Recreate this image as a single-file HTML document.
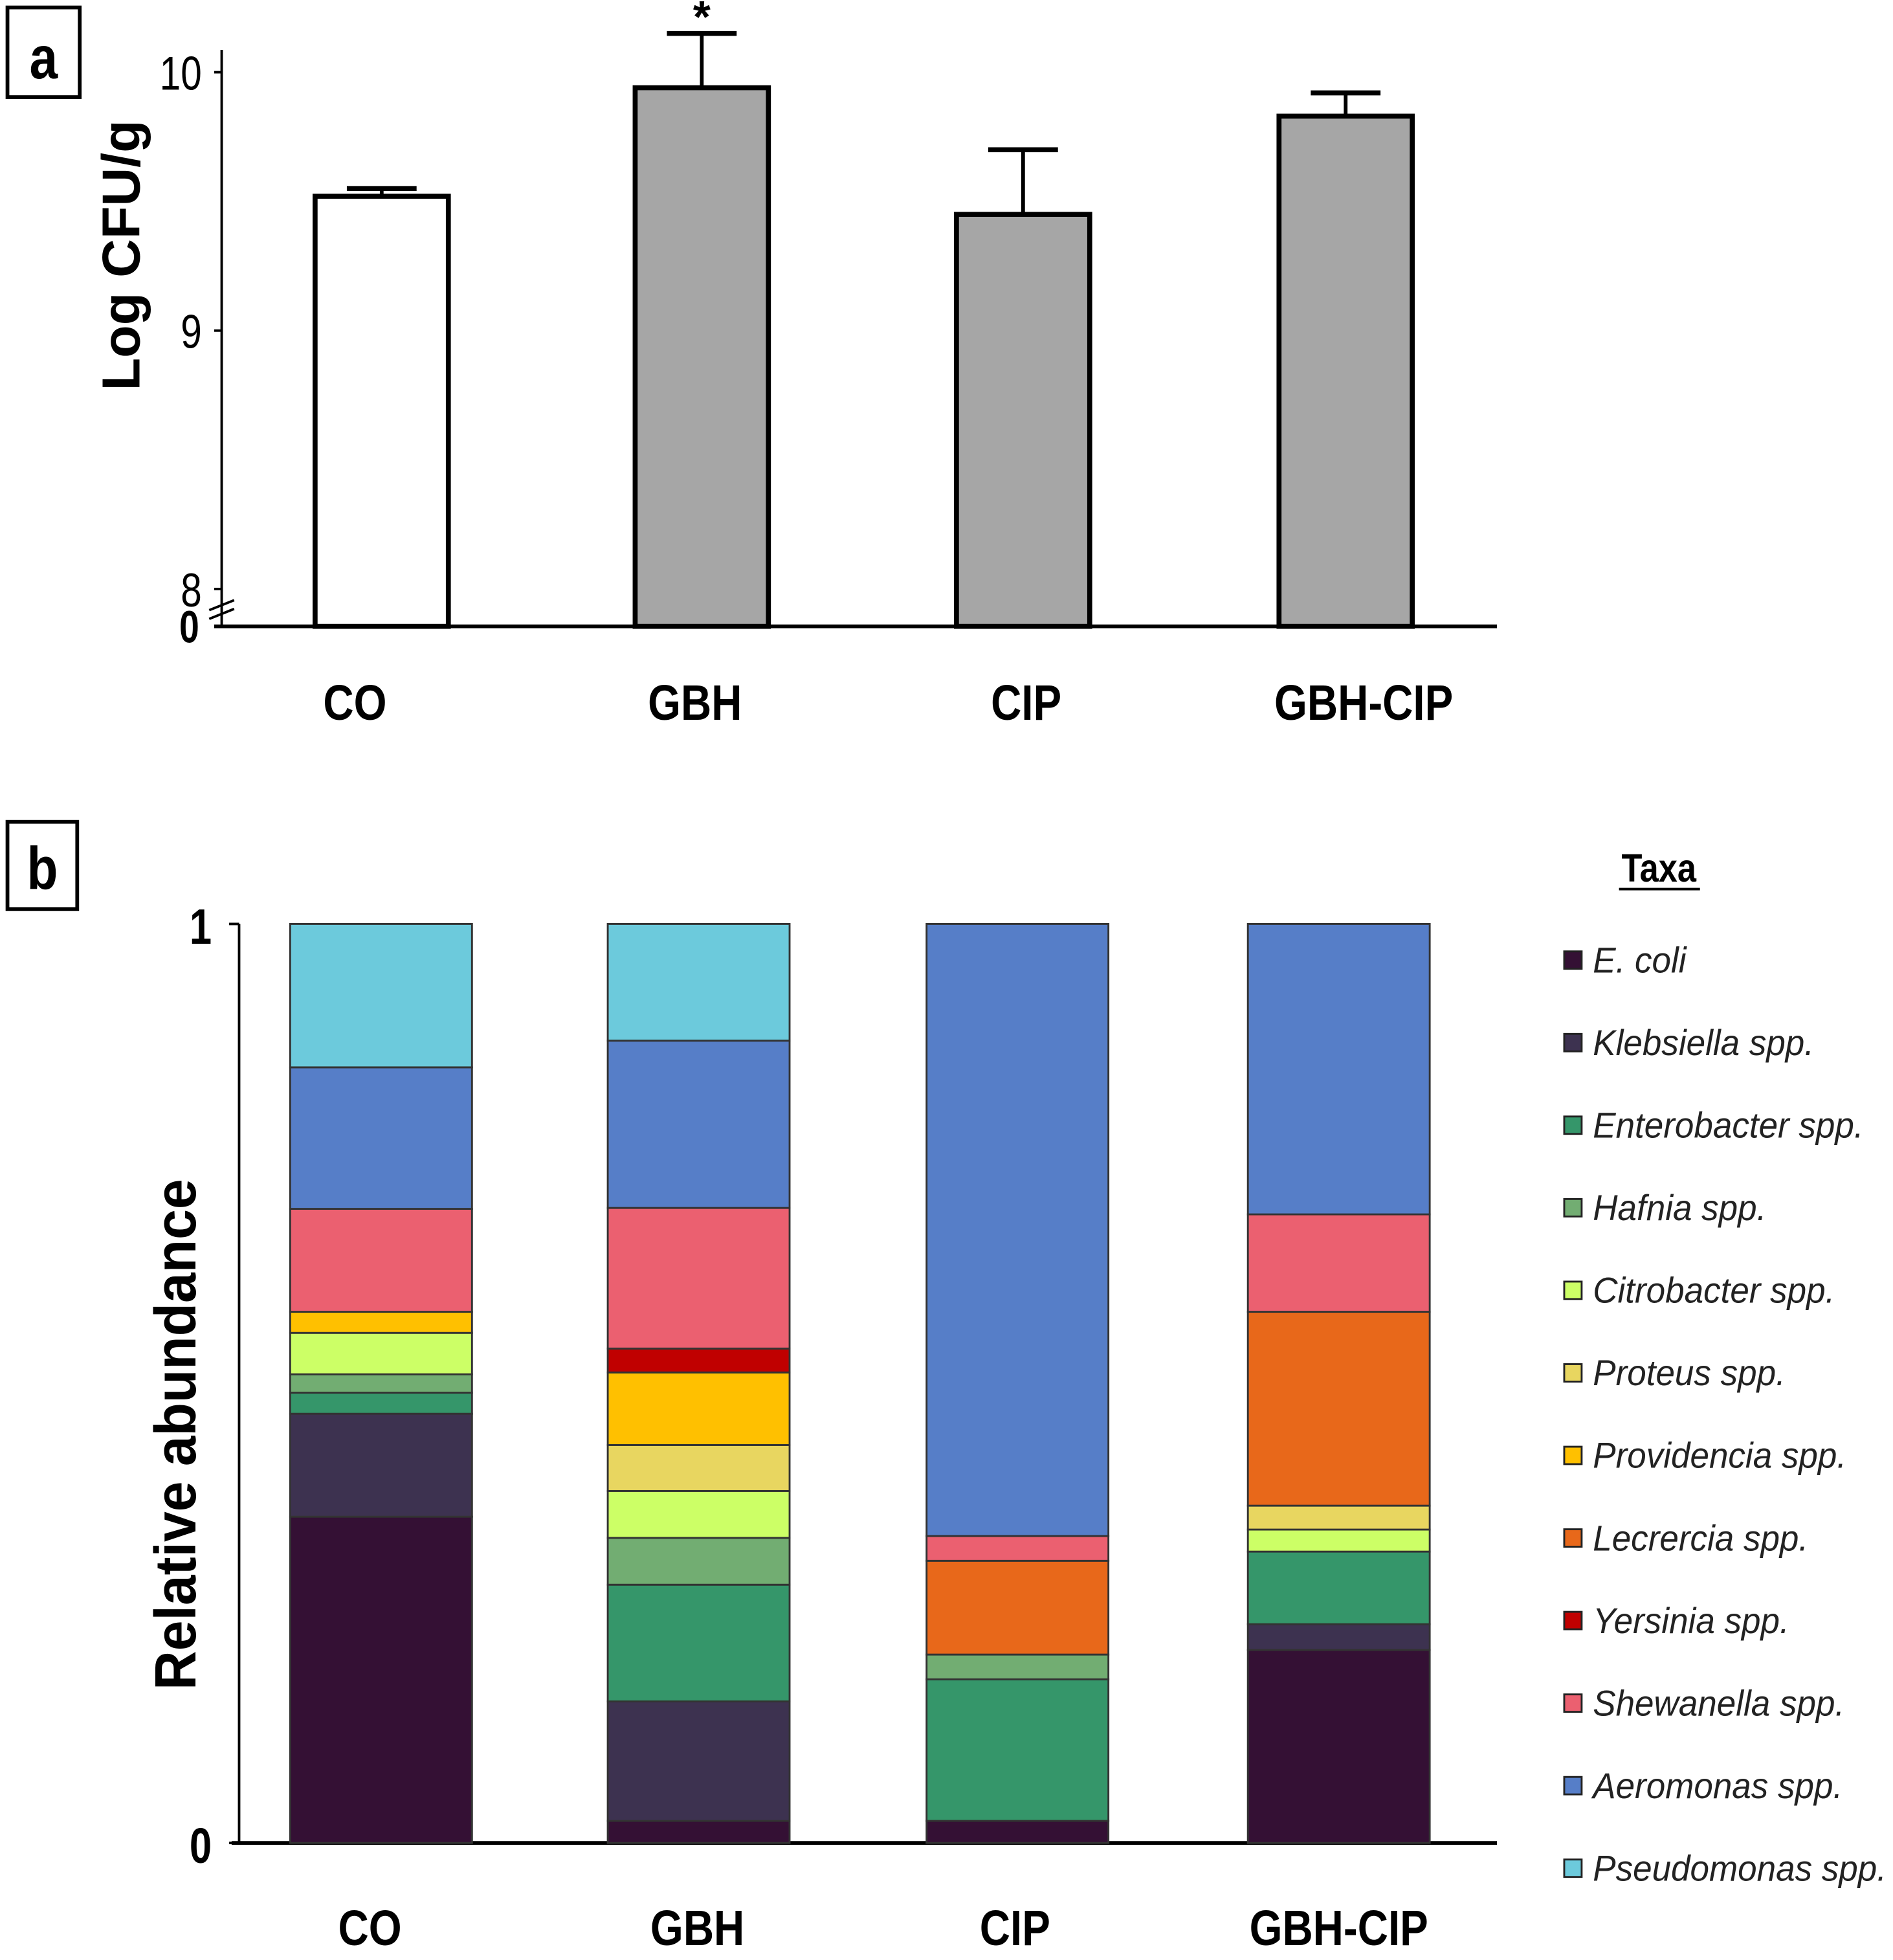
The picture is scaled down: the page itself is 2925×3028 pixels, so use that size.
<!DOCTYPE html>
<html><head><meta charset="utf-8"><style>
html,body{margin:0;padding:0;background:#fff}
svg{display:block;font-family:"Liberation Sans",sans-serif}
</style></head><body>
<svg id="fig" width="2925" height="3028" viewBox="0 0 1520 1574" preserveAspectRatio="none" xmlns="http://www.w3.org/2000/svg">
<g id="pa"></g>
<g id="pb"></g>
</svg>
<script>
// Panel a data
const aCategories = ["CO","GBH","CIP","GBH-CIP"];
const aMeans = [9.52, 9.94, 9.45, 9.83];
const aErrors = [0.03, 0.21, 0.25, 0.09];
const aTicks = [10, 9, 8];
const aSignif = ["", "*", "", ""];
// Panel b data
const bCategories = ["CO","GBH","CIP","GBH-CIP"];
const taxa = ["E. coli","Klebsiella spp.","Enterobacter spp.","Hafnia spp.","Citrobacter spp.","Proteus spp.","Providencia spp.","Lecrercia spp.","Yersinia spp.","Shewanella spp.","Aeromonas spp.","Pseudomonas spp."];
const taxaColors = ["#341034","#3d3250","#35966a","#72ad72","#ccff66","#e8d660","#ffc000","#e8681a","#c00000","#eb6070","#567ec8","#6ccadc"];
const abCO = [0.355,0.112,0.023,0.020,0.045,0,0.023,0,0,0.112,0.154,0.156];
const abGBH = [0.024,0.130,0.127,0.051,0.051,0.050,0.079,0,0.026,0.153,0.182,0.127];
const abCIP = [0.024,0,0.154,0.027,0,0,0,0.102,0,0.027,0.666,0];
const abGBHCIP = [0.210,0.028,0.079,0,0.024,0.026,0,0.211,0,0.106,0.316,0];
const bTicks = [1, 0];

const NS="http://www.w3.org/2000/svg";
function mk(parent, tag, attrs, text){
  const e=document.createElementNS(NS,tag);
  for(const k in attrs) e.setAttribute(k,attrs[k]);
  if(text!==undefined) e.textContent=text;
  parent.appendChild(e); return e;
}
// ---------- Panel A ----------
const pa=document.getElementById('pa');
const ya = v => v>=8 ? 58 + (10-v)*207.5 : 497;
let el;
el=mk(pa,'rect',{x:6,y:6,width:58,height:72,fill:'#fff',stroke:'#000','stroke-width':3});


el=mk(pa,'text',{x:35,y:63,'font-size':48,'font-weight':'bold','text-anchor':'middle',transform:'translate(35,0) scale(0.85,1) translate(-35,0)'},'a');


el=mk(pa,'line',{x1:178,y1:40,x2:178,y2:503,stroke:'#000','stroke-width':2});


el=mk(pa,'line',{x1:172,y1:503,x2:1202,y2:503,stroke:'#000','stroke-width':3});


aTicks.forEach(t=>{
  const y=ya(t);
  el=mk(pa,'line',{x1:172,y1:y,x2:178,y2:y,stroke:'#000','stroke-width':2});
  
  
  el=mk(pa,'text',{x:162,y:y+14,'font-size':38,'text-anchor':'end',transform:`translate(162,0) scale(0.8,1) translate(-162,0)`},String(t));
  
  
});
el=mk(pa,'text',{x:160,y:516,'font-size':36,'font-weight':'bold','text-anchor':'end',transform:`translate(160,0) scale(0.8,1) translate(-160,0)`},'0');


el=mk(pa,'path',{d:'M168,490 L188,482 M168,497 L188,489',stroke:'#000','stroke-width':2,fill:'none'});


el=mk(pa,'text',{x:0,y:0,'font-size':43,'font-weight':'bold','text-anchor':'middle',transform:'translate(112,205) rotate(-90)'},'Log CFU/g');


const aLeft=[253,510,768,1027], aW=107, aLblX=[285,558,824,1095];
aCategories.forEach((c,i)=>{
  const top=ya(aMeans[i]), cx=aLeft[i]+aW/2, et=ya(aMeans[i]+aErrors[i]);
  el=mk(pa,'line',{x1:cx,y1:top,x2:cx,y2:et,stroke:'#000','stroke-width':3});
  
  
  el=mk(pa,'line',{x1:cx-28,y1:et,x2:cx+28,y2:et,stroke:'#000','stroke-width':4});
  
  
  el=mk(pa,'rect',{x:aLeft[i],y:top,width:aW,height:503-top,fill:i===0?'#fff':'#a6a6a6',stroke:'#000','stroke-width':4});
  
  
  if(aSignif[i]){
    el=mk(pa,'text',{x:cx,y:et-1,'font-size':36,'font-weight':'bold','text-anchor':'middle'},aSignif[i]);
    
    
  }
  el=mk(pa,'text',{x:aLblX[i],y:578,'font-size':40,'font-weight':'bold','text-anchor':'middle',transform:`translate(${aLblX[i]},0) scale(0.85,1) translate(${-aLblX[i]},0)`},c);
  
  
});
// ---------- Panel B ----------
const pb=document.getElementById('pb');
const yb = v => 1480 - v*738;
el=mk(pb,'rect',{x:6,y:660,width:56,height:70,fill:'#fff',stroke:'#000','stroke-width':3});


el=mk(pb,'text',{x:34,y:714,'font-size':48,'font-weight':'bold','text-anchor':'middle',transform:'translate(34,0) scale(0.85,1) translate(-34,0)'},'b');


el=mk(pb,'line',{x1:192,y1:742,x2:192,y2:1480,stroke:'#000','stroke-width':2});


el=mk(pb,'line',{x1:186,y1:1480,x2:1202,y2:1480,stroke:'#000','stroke-width':3});


bTicks.forEach(t=>{
  const y=yb(t);
  el=mk(pb,'line',{x1:184,y1:y,x2:192,y2:y,stroke:'#000','stroke-width':2});
  
  
  el=mk(pb,'text',{x:170,y:y+16,'font-size':40,'font-weight':'bold','text-anchor':'end',transform:`translate(170,0) scale(0.8,1) translate(-170,0)`},String(t));
  
  
});
el=mk(pb,'text',{x:0,y:0,'font-size':47,'font-weight':'bold','text-anchor':'middle',transform:'translate(157,1152) rotate(-90) scale(0.93,1)'},'Relative abundance');


const series=[abCO,abGBH,abCIP,abGBHCIP];
const bLeft=[233,488,744,1002], bW=146, bLblX=[297,560,815,1075];
bCategories.forEach((c,i)=>{
  let cum=0;
  series[i].forEach((v,k)=>{
    if(v<=0) return;
    const y1=yb(cum+v), y0=yb(cum);
    el=mk(pb,'rect',{x:bLeft[i],y:y1,width:bW,height:y0-y1,fill:taxaColors[k],stroke:'#333','stroke-width':1.5});
    
    
    cum+=v;
  });
  el=mk(pb,'text',{x:bLblX[i],y:1562,'font-size':40,'font-weight':'bold','text-anchor':'middle',transform:`translate(${bLblX[i]},0) scale(0.85,1) translate(${-bLblX[i]},0)`},c);
  
  
});
el=mk(pb,'text',{x:1332,y:708,'font-size':32,'font-weight':'bold','text-anchor':'middle',transform:'translate(1332,0) scale(0.85,1) translate(-1332,0)'},'Taxa');


el=mk(pb,'line',{x1:1300,y1:714,x2:1365,y2:714,stroke:'#000','stroke-width':2});


taxa.forEach((t,k)=>{
  const y=771+k*66.3;
  const g=mk(pb,'g',{});
  
  
  el=mk(g,'rect',{x:1256,y:y-7,width:14,height:14,fill:taxaColors[k],stroke:'#222','stroke-width':1.5});
  
  
  el=mk(g,'text',{x:1279,y:y+10,'font-size':29,'font-style':'italic',fill:'#222',transform:'translate(1279,0) scale(0.95,1) translate(-1279,0)'},t);
  
  
});
</script>
</body></html>
